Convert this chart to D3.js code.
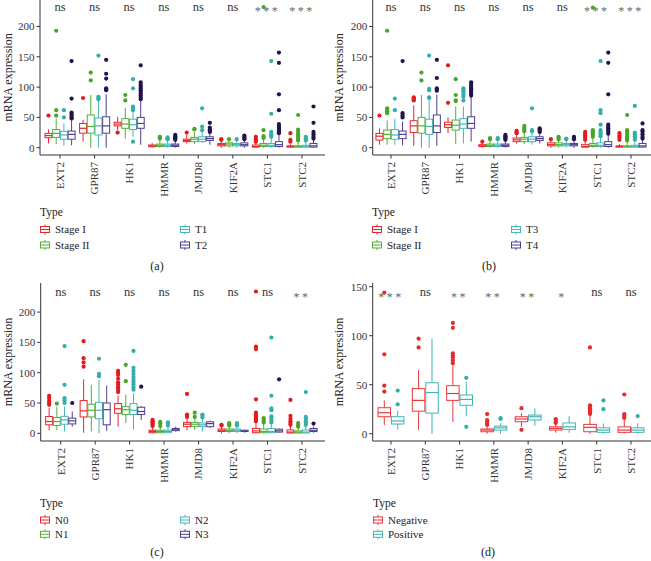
<!DOCTYPE html>
<html><head><meta charset="utf-8">
<script src="https://cdn.jsdelivr.net/npm/d3@7"></script>
<style>body{margin:0;background:#fff} svg{display:block} text{font-family:"Liberation Serif","Times New Roman",serif}</style>
</head><body><svg id="c" width="651" height="561"></svg>
<script>
const genes = ["EXT2","GPR87","HK1","HMMR","JMJD8","KIF2A","STC1","STC2"];

// ---------- Panel (a): [lower whisker, q1, median, q3, upper whisker] per gene
const groupsA = ["Stage I","Stage II","T1","T2"];
const a_g1 = [[7,16.5,20,23.6,30],[10,24,32,40,46],[29,36,39,42,51],[0,1.6,3,4.4,8],[7,10,12,14,21],[0,3,5,7,12],[0,1,2,4.4,8],[0,1,2,3,6]];
const a_g2 = [[6,17,23.6,30,48],[0,24,35,54,87],[15,32,39,48,66],[0,2,4,6,13],[6,10,14,17,26],[0,3,6,8,12],[0,2,4,7,14],[0,1,2,3,9]];
const a_g3 = [[3,14,21,27,40],[0,21,36,49,78],[18,30,38,47,60],[0,2,4,6,12],[8,10,14,18,26],[0,3,5,7,12],[0,2,4,7,15],[0,1,2,4,10]];
const a_g4 = [[4,14,22,27.5,45],[0,24,36,51,88],[5,32,40,50,78],[0,2,4,6,11],[5,12,15,18,24],[0,3,5,8,12],[0,2,5,10,22],[0,1,3,7,13]];
const a_o1 = [[53],[82],[25],[],[25],[14,13],[10,13,15,18],[10,13,24]];
const a_o2 = [[53,62,193],[111,124],[78,87],[15,17,18],[30,31],[14],[16,19,29,232],[12,15,19,22,26,30,54]];
const a_o3 = [[50,62],[80,82,84,152],[10,62,64,66,68,98,113],[14,15,17],[29,35,65],[14],[18,20,22,26,56,143],[12,14,16,18]];
const a_o4 = [[48,50,53,56,58,81,143],[95,96,98,114,122,145],[80,83,86,89,92,95,98,101,104,108,136],[13,15,17,19,21],[26,28,30,33,41],[14,16,18,20],[24,27,30,33,36,39,62,88,140,157],[15,18,22,26,41,68]];
const sigA = ["ns","ns","ns","ns","ns","ns","***","***"];

// ---------- Panel (b)
const groupsB = ["Stage I","Stage II","T3","T4"];
const b_g1 = [[5,12.6,19,23.6,32],[3,25,36,44.5,70],[24,33.5,38,42,50],[0,2,3,5,8],[7,10,13,16,22],[0,3,5,8,12],[0,1,2,5,10],[0,1,2,3,6]];
const b_g2 = [[5,15,22,29,45],[0,24,36,50,87],[6,29,37,45.6,68],[0,2,4,6,12],[6,10,14,17,25],[0,3,5,8,12],[0,2,4,7,15],[0,1,2,3,9]];
const b_g3 = [[5,14,21,30,48],[0,22,35,47,84],[7,32,39,48,68],[0,2,4,6,12],[5,10,14,18,25],[0,3,5,7,12],[0,2,4,8,16],[0,1,2,4,11]];
const b_g4 = [[4,15,22,27.5,43],[3,25,36,54,88],[10,32,40,51,84],[0,2,4,6,11],[7,12,15,18,24],[0,3,5,7,12],[0,2,5,10,21],[0,1,3,7,13]];
const b_o1 = [[53],[78,80,82,83],[74,136],[10],[24,26,28],[14],[13,17,20,23,26],[13,17,20,24]];
const b_o2 = [[57,60,62,65,193],[111,124],[77,78,87,113],[14,16],[27,30,33,36],[14,16,18],[18,21,24,27,29,231],[12,15,18,22,26,29,54]];
const b_o3 = [[62,81],[82,83,95,97,152],[78,84,88,92,95,98],[14,16],[27,29,65],[14,15],[19,22,25,29,38,57,62,143],[13,16,19,22,25,69]];
const b_o4 = [[50,53,57,143],[94,96,98,115,145],[86,89,92,95,98,101,104,108],[13,15,17,19,21],[26,28,30,32],[14,16,18],[23,26,29,32,35,38,88,140,157],[15,18,22,26,29,40]];
const sigB = ["ns","ns","ns","ns","ns","ns","***","***"];

// ---------- Panel (c)
const groupsC = ["N0","N1","N2","N3"];
const c_g1 = [[5,14,19.4,27.8,42],[1,27,37,54,89],[11,33,40.5,49,62],[0,1,3,5,10],[5,11,15,18,25],[0,3,5,7,11],[0,1,4,8,18],[0,0.5,2,5.5,12]];
const c_g2 = [[5,12.8,19.4,26,44],[3,27,38,48,80],[17,31,39,44,64],[0,1,3,5,10],[5,11,15,18,24],[0,3,5,7,11],[0,1,3,7,16],[0,0.5,2,4,9]];
const c_g3 = [[3,15,22,28,44],[0,24,38,51,88],[6,31,38,49,66],[0,1,3,5,11],[3,11,14,17,24],[0,3,5,7,11],[0,1,3,8,16],[0,0.5,2,5.5,12]];
const c_g4 = [[11,15.5,20.5,25,36],[4,14,39,50,79],[22,31,36,43,45],[3,4.4,6.7,8,11],[9,11,16,19,21],[1,3,4,5,6],[1,2,4,6.7,8],[1,3,5,8,11]];
const c_o1 = [[47,50,53,58,62],[110,117,124,152],[68,72,76,80,84,90,96,100,103],[12,14,16,18,20,22],[27,29,31,65],[13,14],[20,22,25,28,31,34,56,139,143,234],[14,17,20,24,29,55]];
const c_o2 = [[49],[],[86,113],[12,16,19],[27,34],[13,15,17],[18,21,25],[11,14,17]];
const c_o3 = [[50,54,58,80,144],[94,98,123],[72,76,80,84,88,93,98,103,108,136],[13,16,18],[26,29,31],[13,15,17],[18,21,25,28,38,41,62,158],[14,17,20,24,27,68]];
const c_o4 = [[50],[],[77],[],[],[],[89],[16]];
const sigC = ["ns","ns","ns","ns","ns","ns","ns","**"];

// ---------- Panel (d)
const groupsD = ["Negative","Positive"];
const d_g1 = [[9,17.3,21.4,26.5,34],[4,23,34,46,65],[12,34,41,49,70],[0,2,3.7,4.8,7],[7,12.2,15,17.3,21],[1,3.7,5.4,7,10],[0,2,6.5,9.5,18],[0,1.4,3.7,7,14]];
const d_g2 = [[4.4,9.9,13,17.3,23.5],[0,21,42,52,97],[18,29,35,39.5,53],[0,3.7,6,7.8,10.5],[8,14,17.3,19,26],[1,4.4,7,11,18],[0,1.4,3.7,6,10.5],[0,1.4,3.7,6,10.5]];
const d_o1 = [[43,49,81,144],[88,97],[72,75,78,80,82,108,113],[9,10,12,14,20],[4,26],[11,12,14,15],[20,22,24,26,28,29,88],[16,17,19,20,40]];
const d_o2 = [[30,44],[],[7,57],[15,16],[],[],[25,34],[18]];
const sigD = ["***","ns","**","**","**","*","ns","ns"];

const yTicksAC = [0,50,100,150,200];
const yTicksD = [0,50,100,150];

const col4 = ["#E8262B","#55AD36","#45B7B3","#4E3E8F"];
const out4 = ["#E41A1C","#48A528","#33AEAA","#22124E"];
const col2 = ["#E8383C","#3FB5B0"];
const out2 = ["#E62A2E","#33AEAA"];

const panels = [
  {lab:"(a)", groups:groupsA, stats:[a_g1,a_g2,a_g3,a_g4], outs:[a_o1,a_o2,a_o3,a_o4], sig:sigA, cols:col4, ocols:out4,
   xr:[40,322], pad:0.58, axX:40, axXEnd:325, yDom:[0,200], yRng:[147.7,26.5], axBot:155, axTop:0, ticks:yTicksAC, sigY:7, titleX:8,
   legX:40, legX2:180, typeY:212, rows:[229.5,245], labX:157, labY:266, step:7.7, bw:7},
  {lab:"(b)", groups:groupsB, stats:[b_g1,b_g2,b_g3,b_g4], outs:[b_o1,b_o2,b_o3,b_o4], sig:sigB, cols:col4, ocols:out4,
   xr:[372.7,649.3], pad:0.534, axX:372.7, axXEnd:651, yDom:[0,200], yRng:[147.7,26.5], axBot:155, axTop:0, ticks:yTicksAC, sigY:7, titleX:339,
   legX:372, legX2:511, typeY:212, rows:[229.5,245], labX:489, labY:266, step:7.7, bw:7},
  {lab:"(c)", groups:groupsC, stats:[c_g1,c_g2,c_g3,c_g4], outs:[c_o1,c_o2,c_o3,c_o4], sig:sigC, cols:col4, ocols:out4,
   xr:[40.7,322], pad:0.58, axX:40.7, axXEnd:325, yDom:[0,200], yRng:[433.3,312.1], axBot:441, axTop:283, ticks:yTicksAC, sigY:292.7, titleX:8,
   legX:40, legX2:180, typeY:503, rows:[520,534.3], labX:157, labY:552, step:7.7, bw:7},
  {lab:"(d)", groups:groupsD, stats:[d_g1,d_g2], outs:[d_o1,d_o2], sig:sigD, cols:col2, ocols:out2,
   xr:[372.7,649.3], pad:0.534, axX:372.7, axXEnd:651, yDom:[0,150], yRng:[433.7,286.7], axBot:441, axTop:283, ticks:yTicksD, sigY:292.7, titleX:339,
   legX:373, legX2:null, typeY:503, rows:[520,534.3], labX:488, labY:552, step:13.4, bw:12.5}
];

const svg = d3.select("#c");
const axisCol = "#333";

panels.forEach(p => {
  const g = svg.append("g");
  const x = d3.scalePoint().domain(genes).range(p.xr).padding(p.pad);
  const y = d3.scaleLinear().domain(p.yDom).range(p.yRng);
  const n = p.groups.length;

  g.append("line").attr("x1",p.axX).attr("x2",p.axX).attr("y1",p.axTop).attr("y2",p.axBot).attr("stroke",axisCol).attr("stroke-width",1);
  g.append("line").attr("x1",p.axX).attr("x2",p.axXEnd).attr("y1",p.axBot).attr("y2",p.axBot).attr("stroke",axisCol).attr("stroke-width",1);

  p.ticks.forEach(t => {
    g.append("line").attr("x1",p.axX-3.5).attr("x2",p.axX).attr("y1",y(t)).attr("y2",y(t)).attr("stroke",axisCol);
    g.append("text").attr("x",p.axX-5.5).attr("y",y(t)).attr("dy","0.35em").attr("text-anchor","end")
      .attr("font-size",11).attr("fill","#333").text(t);
  });
  genes.forEach(gn => {
    const cx = x(gn);
    g.append("line").attr("x1",cx).attr("x2",cx).attr("y1",p.axBot).attr("y2",p.axBot+3.5).attr("stroke",axisCol);
    g.append("text").attr("transform",`translate(${cx},${p.axBot+7}) rotate(-90)`).attr("dy","0.35em")
      .attr("text-anchor","end").attr("font-size",11).attr("fill","#333").text(gn);
  });
  const midY = (p.axTop + p.axBot)/2;
  g.append("text").attr("transform",`translate(${p.titleX},${midY}) rotate(-90)`).attr("dy","0.35em")
    .attr("text-anchor","middle").attr("font-size",12).attr("fill","#222").text("mRNA expression");

  p.stats.forEach((arr, gi) => {
    const off = (gi - (n-1)/2) * p.step;
    const c = p.cols[gi];
    arr.forEach((s, i) => {
      const cx = x(genes[i]) + off;
      const [lo,q1,md,q3,hi] = s;
      g.append("line").attr("x1",cx).attr("x2",cx).attr("y1",y(hi)).attr("y2",y(q3)).attr("stroke",c).attr("stroke-width",1);
      g.append("line").attr("x1",cx).attr("x2",cx).attr("y1",y(q1)).attr("y2",y(lo)).attr("stroke",c).attr("stroke-width",1);
      g.append("rect").attr("x",cx-p.bw/2).attr("width",p.bw).attr("y",y(q3)).attr("height",Math.max(1,y(q1)-y(q3)))
        .attr("fill","#fff").attr("stroke",c).attr("stroke-width",1);
      g.append("line").attr("x1",cx-p.bw/2).attr("x2",cx+p.bw/2).attr("y1",y(md)).attr("y2",y(md)).attr("stroke",c).attr("stroke-width",1.2);
      p.outs[gi][i].forEach(v => {
        g.append("circle").attr("cx",cx).attr("cy",y(v)).attr("r",2.1).attr("fill",p.ocols[gi]);
      });
    });
  });

  p.sig.forEach((s, i) => {
    const t = g.append("text").attr("x",x(genes[i])).attr("text-anchor","middle");
    if (s === "ns") {
      t.attr("y",p.sigY).attr("dy","0.3em").attr("font-size",12.5).attr("fill","#333").text(s);
    } else {
      t.attr("y",p.sigY).attr("dy","0.7em").attr("font-size",12).attr("letter-spacing","2.5px").attr("fill","#666").text(s);
    }
  });

  g.append("text").attr("x",p.legX).attr("y",p.typeY).attr("dy","0.35em").attr("font-size",11.5).attr("fill","#222").text("Type");
  p.groups.forEach((gn, gi) => {
    const col = (n === 4 && gi >= 2) ? 1 : 0;
    const row = n === 4 ? gi % 2 : gi;
    const kx = col ? p.legX2 : p.legX;
    const ky = p.rows[row];
    const c = p.cols[gi];
    g.append("line").attr("x1",kx+5).attr("x2",kx+5).attr("y1",ky-5).attr("y2",ky+5).attr("stroke",c);
    g.append("rect").attr("x",kx+0.5).attr("y",ky-3).attr("width",9).attr("height",6).attr("fill","#fff").attr("stroke",c);
    g.append("line").attr("x1",kx+0.5).attr("x2",kx+9.5).attr("y1",ky).attr("y2",ky).attr("stroke",c);
    g.append("text").attr("x",kx+15).attr("y",ky).attr("dy","0.35em").attr("font-size",11).attr("fill","#222").text(gn);
  });
  g.append("text").attr("x",p.labX).attr("y",p.labY).attr("dy","0.35em").attr("text-anchor","middle").attr("font-size",12).attr("fill","#222").text(p.lab);
});
</script></body></html>
